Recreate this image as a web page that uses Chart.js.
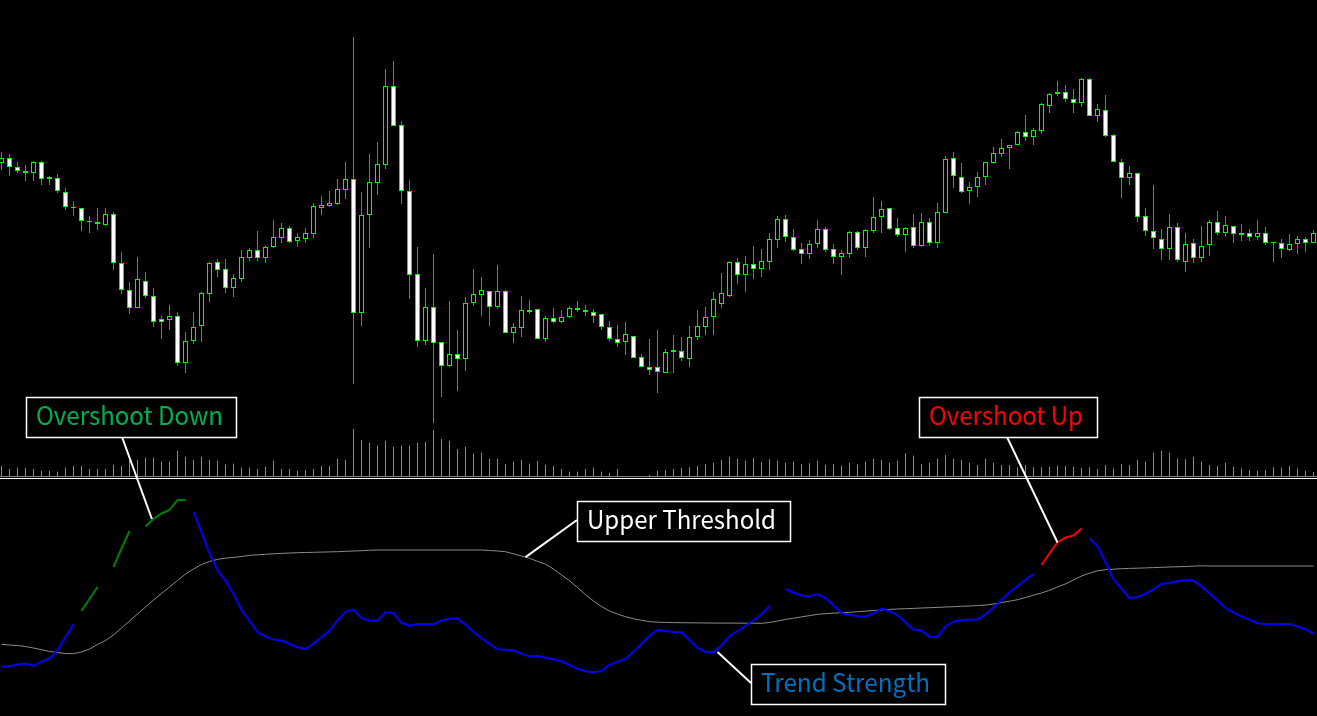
<!DOCTYPE html>
<html>
<head>
<meta charset="utf-8">
<script src="https://cdn.jsdelivr.net/npm/chart.js@4.4.0/dist/chart.umd.min.js"></script>
<style>
  html, body { margin: 0; padding: 0; background: #000; }
  #wrap { width: 1317px; height: 716px; }
</style>
</head>
<body>
<div id="wrap"><canvas id="chart" width="1317" height="716"></canvas></div>
<script>
// price bars, one per period (left to right)
const open = [
  108.37,108.42,108.33,108.29,108.27,108.38,108.23,108.22,108.08,107.93,
  107.92,107.79,107.78,107.75,107.86,107.37,107.10,106.92,107.19,107.04,
  106.81,106.80,106.84,106.37,106.59,106.74,107.06,107.38,107.31,107.12,
  107.21,107.42,107.50,107.42,107.53,107.62,107.72,107.59,107.61,107.66,
  107.92,107.94,107.96,108.10,108.21,106.87,107.85,108.17,108.35,109.14,
  108.75,108.09,107.26,106.59,106.93,106.58,106.34,106.46,106.41,106.97,
  107.05,107.09,106.93,107.09,106.67,106.72,106.88,106.91,106.61,106.82,
  106.78,106.83,106.90,106.90,106.88,106.86,106.73,106.61,106.58,106.64,
  106.43,106.33,106.33,106.27,106.48,106.49,106.41,106.63,106.73,106.83,
  106.96,107.04,107.38,107.25,107.36,107.31,107.38,107.60,107.81,107.63,
  107.51,107.46,107.56,107.71,107.51,107.43,107.46,107.68,107.52,107.69,
  107.83,107.92,107.72,107.65,107.73,107.54,107.78,107.57,107.87,108.42,
  108.23,108.09,108.13,108.23,108.37,108.46,108.52,108.55,108.68,108.63,
  108.69,108.94,109.06,109.08,109.01,108.97,109.21,108.84,108.90,108.65,
  108.38,108.22,108.27,107.84,107.69,107.61,107.51,107.73,107.38,107.57,
  107.42,107.55,107.78,107.67,107.74,107.67,107.67,107.63,107.67,107.58,
  107.57,107.50,107.56,107.61,107.57
];
const high = [
  108.48,108.46,108.38,108.35,108.39,108.39,108.24,108.26,108.12,107.99,
  107.92,107.84,107.92,107.92,107.88,107.48,107.18,107.43,107.28,107.12,
  106.84,106.95,106.88,106.68,106.88,107.08,107.38,107.41,107.41,107.26,
  107.50,107.52,107.69,107.54,107.80,107.77,107.74,107.67,107.72,107.97,
  108.04,108.09,108.21,108.38,109.63,108.08,108.46,108.58,109.31,109.39,
  108.79,108.20,107.53,107.12,107.46,106.58,106.99,106.70,107.03,107.31,
  107.23,107.09,107.35,107.10,106.77,107.04,107.00,106.91,106.84,106.92,
  106.90,106.94,106.99,106.95,106.91,106.86,106.79,106.75,106.78,106.64,
  106.46,106.61,106.70,106.51,106.65,106.63,106.74,106.90,106.93,107.08,
  107.27,107.39,107.42,107.44,107.54,107.51,107.67,107.84,107.85,107.71,
  107.57,107.60,107.80,107.73,107.56,107.50,107.69,107.69,107.71,108.03,
  107.99,107.92,107.82,107.73,107.86,107.87,107.82,107.97,108.44,108.48,
  108.37,108.18,108.28,108.38,108.53,108.61,108.55,108.69,108.85,108.72,
  108.97,109.07,109.19,109.15,109.11,109.22,109.22,108.96,109.05,108.66,
  108.41,108.34,108.27,107.92,108.15,107.71,107.86,107.77,107.67,107.61,
  107.74,107.80,107.89,107.84,107.74,107.76,107.71,107.80,107.73,107.58,
  107.61,107.66,107.64,107.63,107.70
];
const low = [
  108.30,108.24,108.27,108.19,108.19,108.15,108.15,108.07,107.90,107.84,
  107.69,107.67,107.70,107.74,107.30,107.06,106.86,106.92,107.02,106.73,
  106.61,106.70,106.34,106.27,106.56,106.58,106.98,107.23,107.07,107.03,
  107.18,107.39,107.39,107.37,107.52,107.57,107.57,107.53,107.57,107.62,
  107.85,107.93,107.95,108.01,106.16,106.74,107.52,108.05,108.31,108.74,
  107.96,107.01,106.53,106.55,105.77,106.03,106.33,106.09,106.29,106.94,
  106.84,106.74,106.91,106.67,106.57,106.63,106.86,106.61,106.58,106.77,
  106.77,106.82,106.88,106.84,106.77,106.70,106.59,106.53,106.45,106.42,
  106.33,106.25,106.07,106.27,106.27,106.39,106.33,106.60,106.65,106.65,
  106.92,107.03,107.16,107.08,107.21,107.23,107.30,107.52,107.58,107.49,
  107.36,107.41,107.52,107.48,107.36,107.25,107.42,107.50,107.43,107.67,
  107.67,107.70,107.63,107.48,107.52,107.53,107.54,107.52,107.87,108.12,
  108.07,107.96,108.03,108.15,108.36,108.43,108.31,108.55,108.59,108.55,
  108.66,108.87,109.04,108.98,108.87,108.93,108.84,108.78,108.63,108.38,
  108.02,108.15,107.78,107.64,107.51,107.40,107.40,107.38,107.28,107.37,
  107.38,107.44,107.65,107.63,107.57,107.59,107.59,107.60,107.55,107.38,
  107.42,107.49,107.46,107.48,107.57
];
const close = [
  108.42,108.33,108.29,108.27,108.38,108.21,108.21,108.09,107.93,107.92,
  107.79,107.78,107.76,107.86,107.37,107.10,106.92,107.21,107.04,106.78,
  106.78,106.84,106.37,106.59,106.73,107.07,107.37,107.30,107.12,107.22,
  107.43,107.50,107.42,107.53,107.63,107.72,107.58,107.63,107.67,107.94,
  107.95,107.97,108.11,108.21,106.87,107.85,108.18,108.36,109.14,108.74,
  108.09,107.25,106.59,106.93,106.57,106.34,106.46,106.41,106.97,107.06,
  107.10,106.93,107.09,106.67,106.73,106.90,106.90,106.61,106.82,106.78,
  106.83,106.92,106.92,106.88,106.84,106.73,106.61,106.57,106.66,106.42,
  106.33,106.30,106.28,106.48,106.50,106.42,106.63,106.74,106.83,107.01,
  107.07,107.38,107.25,107.36,107.31,107.39,107.61,107.81,107.63,107.50,
  107.46,107.56,107.71,107.50,107.43,107.47,107.68,107.52,107.70,107.83,
  107.91,107.71,107.65,107.72,107.54,107.78,107.57,107.88,108.41,108.24,
  108.08,108.13,108.23,108.38,108.47,108.52,108.55,108.68,108.63,108.70,
  108.96,109.06,109.08,109.01,108.97,109.21,108.84,108.91,108.64,108.38,
  108.22,108.27,107.83,107.69,107.62,107.51,107.73,107.40,107.56,107.42,
  107.54,107.78,107.67,107.75,107.66,107.65,107.63,107.67,107.57,107.57,
  107.51,107.56,107.61,107.57,107.67
];
const volume = [
  250,175,210,200,175,130,130,110,210,250,
  250,175,175,175,280,250,400,400,460,460,
  360,360,630,480,400,480,400,380,290,310,
  210,210,175,230,380,175,175,130,150,175,
  250,250,430,400,1175,900,830,760,880,730,
  760,760,830,850,1150,925,880,675,730,560,
  580,430,430,300,360,400,310,375,280,250,
  175,110,110,175,210,110,80,175,null,null,
  null,25,130,150,175,200,220,250,300,330,
  400,480,430,380,450,350,420,380,330,360,
  300,320,380,280,300,260,330,290,360,430,
  400,330,380,570,510,300,330,425,525,425,
  400,330,275,425,330,275,275,220,275,220,
  220,230,260,250,230,200,220,175,275,190,
  300,275,400,360,580,630,580,440,420,480,
  360,275,250,330,230,190,150,130,150,220,
  210,250,190,130,100
];

// indicator pane
const strength = [
  49.3,49.7,51.5,52.5,50,54.7,57.4,65.5,79,92,
  null,null,null,null,null,null,null,null,null,null,
  null,null,null,null,204,183.8,162.6,145.7,135.2,122,
  106.2,95,84,79.3,76.5,75.5,72,68.8,67,72.4,
  78.8,85.5,95.5,104.2,106.4,97.8,95.3,95.3,103.7,103,
  93.2,90.3,92,91.8,91.8,95.6,97.2,97.7,91.2,84.3,
  77.8,72.1,66.7,66.3,65.4,62.4,59.4,59.9,58.3,56.8,
  54.7,51,47.1,44.8,43.7,45.1,51,54.1,57.1,64.4,
  72.3,80.2,86,85,84,83.7,76,68,64,64,
  70.5,80,85,90,95.7,101.5,110,null,126.7,123.5,
  120.5,119.4,122,118,110.5,103,101.3,99.8,99.4,102.5,
  107.3,104.8,101,93.5,86.5,85.5,79,79,89.5,94.3,
  96,96.4,96.6,101.5,108.5,116,123.7,129.7,136.2,142,
  null,null,null,null,null,null,177.5,170,153.5,136.7,
  127.4,118,119,122.2,126.7,132.3,132.7,135,135.8,135.4,
  129.6,122.5,115.4,108.2,103.3,99.7,96.3,92.8,92,92,
  92,92,89.5,86.8,82.5
];
const overshootDown = strength.map(() => null);
[[10,105],[11,117],[12,129],[14,149],[15,167.5],[16,185],[18,189.5],
 [19,197],[20,202.5],[21,206],[22,216],[23,216]].forEach(([i, v]) => overshootDown[i] = v);
const overshootUp = strength.map(() => null);
[[130,151],[131,162.5],[132,173.5],[133,178.5],[134,180.5],[135,187.5]].forEach(([i, v]) => overshootUp[i] = v);
const upperThreshold = [
  71.6,71,70.5,69.5,68,66.3,64.6,63.5,62.5,62.4,
  64,67,71.5,75.5,81,88,95,102,109,116,
  122.5,129,135.5,142,147,151.5,154.5,156.7,157.8,158.6,
  159.5,160.6,161.2,161.7,162.2,162.6,163,163.3,163.5,163.7,
  163.9,164.1,164.3,164.7,165,165.3,165.7,166,166,166,
  166,166,166,166,166,166,166,166,166,166,
  166,165.5,165,164.3,162.2,160,157.7,154.7,151.8,147,
  141,135.3,128.5,121.3,115,109.5,105,102,99.3,97.3,
  95.7,94.3,93.8,93.6,93.4,93.3,93.2,93.1,93,93,
  92.9,92.9,92.9,92.8,92.8,92.7,93.5,95,96.6,97.8,
  99.1,100.4,101.7,102.3,102.8,103.3,103.7,104.3,104.9,105.5,
  106,106.6,107,107.3,107.6,108,108.3,108.6,109,109.3,
  109.7,110,110.5,110.9,112,113.4,114.8,116.3,118.5,120.8,
  123,125.7,129,132.1,136,140,142.8,145.2,146.3,146.8,
  147.3,147.6,147.8,148.1,148.4,148.7,149,149.2,149.5,149.9,
  150.2,150,150,150,150,150,150,150,150,150,
  150,150,150,150,150
];

const WICK = '#00c800';
const EDGE = '#00ff00';

const pts = arr => arr.map((v, i) => ({ x: i, y: v }));

const notes = [
  { text: 'Overshoot Down', color: '#00b050', box: [26, 397, 210, 40], textW: 187,
    from: [122, 437], to: { i: 18.8, v: overshootDown[19] } },
  { text: 'Overshoot Up', color: '#ff0000', box: [919, 397, 178, 40], textW: 154,
    from: [1007, 437], to: { i: 132, v: overshootUp[132] } },
  { text: 'Upper Threshold', color: '#ffffff', box: [577, 501, 213, 40], textW: 189,
    from: [577, 520], to: { i: 65.5, v: (upperThreshold[65] + upperThreshold[66]) / 2 } },
  { text: 'Trend Strength', color: '#0070c0', box: [751, 664, 194, 40], textW: 169,
    from: [751, 683], to: { i: 89.5, v: strength[89] } }
];

const overlay = {
  id: 'overlay',
  beforeDatasetsDraw(chart) {
    const c = chart.ctx;
    c.save();
    c.fillStyle = '#808080';
    c.fillRect(0, 476, chart.width, 1);
    c.fillStyle = '#ffffff';
    c.fillRect(0, 478, chart.width, 1);
    c.restore();
  },
  afterDatasetsDraw(chart) {
    const c = chart.ctx;
    const sx = chart.scales.x, si = chart.scales.yi;
    c.save();
    notes.forEach(n => {
      const [bx, by, bw, bh] = n.box;
      // leader line
      c.strokeStyle = '#ffffff';
      c.lineWidth = 2;
      c.beginPath();
      c.moveTo(n.from[0], n.from[1]);
      c.lineTo(sx.getPixelForValue(n.to.i), si.getPixelForValue(n.to.v));
      c.stroke();
      // box
      c.fillStyle = '#000000';
      c.fillRect(bx, by, bw, bh);
      c.lineWidth = 1.5;
      c.strokeRect(bx + 0.5, by + 0.5, bw, bh);
      // label
      c.font = '25px "Noto Sans CJK JP"';
      c.fillStyle = n.color;
      c.textBaseline = 'alphabetic';
      const w = c.measureText(n.text).width;
      c.save();
      c.translate(bx + 10, by + 27.5);
      c.scale(n.textW / w, 1);
      c.fillText(n.text, 0, 0);
      c.restore();
    });
    c.restore();
  }
};

new Chart(document.getElementById('chart'), {
  type: 'bar',
  data: {
    datasets: [
      {
        type: 'line', label: 'Upper Threshold', data: pts(upperThreshold), yAxisID: 'yi',
        borderColor: '#8c8c8c', borderWidth: 1, pointRadius: 0, tension: 0, order: 5
      },
      {
        type: 'line', label: 'Trend Strength', data: pts(strength), yAxisID: 'yi',
        borderColor: '#0000ff', borderWidth: 2, pointRadius: 0, tension: 0, order: 4
      },
      {
        type: 'line', label: 'Overshoot Down', data: pts(overshootDown), yAxisID: 'yi',
        borderColor: '#008000', borderWidth: 2, pointRadius: 0, tension: 0, order: 4
      },
      {
        type: 'line', label: 'Overshoot Up', data: pts(overshootUp), yAxisID: 'yi',
        borderColor: '#ff0000', borderWidth: 2, pointRadius: 0, tension: 0, order: 4
      },
      {
        label: 'Volume', data: pts(volume), yAxisID: 'yv',
        backgroundColor: '#32cd32', barThickness: 1, grouped: false, inflateAmount: 0, order: 6
      },
      {
        label: 'Wick', data: open.map((_, i) => ({ x: i, y: [low[i], high[i]] })), yAxisID: 'y',
        backgroundColor: WICK, barThickness: 1, grouped: false, inflateAmount: 0, order: 3
      },
      {
        label: 'Body', data: open.map((o, i) => ({ x: i, y: [o, close[i]] })), yAxisID: 'y',
        backgroundColor: open.map((o, i) => close[i] < o ? '#ffffff' : '#000000'),
        borderColor: EDGE, borderWidth: 1, borderSkipped: false,
        barThickness: 5, grouped: false, inflateAmount: 0, order: 2
      }
    ]
  },
  options: {
    responsive: false,
    animation: false,
    devicePixelRatio: 1,
    layout: { padding: 0 },
    plugins: { legend: { display: false }, tooltip: { enabled: false } },
    scales: {
      x: { type: 'linear', min: -0.1875, max: 164.4375, offset: false, display: false },
      y: { type: 'linear', min: 102.84, max: 110, display: false },
      yv: { type: 'linear', min: -6000, max: 11900, display: false },
      yi: { type: 'linear', min: 0, max: 716, display: false }
    }
  },
  plugins: [overlay]
});
</script>
</body>
</html>
